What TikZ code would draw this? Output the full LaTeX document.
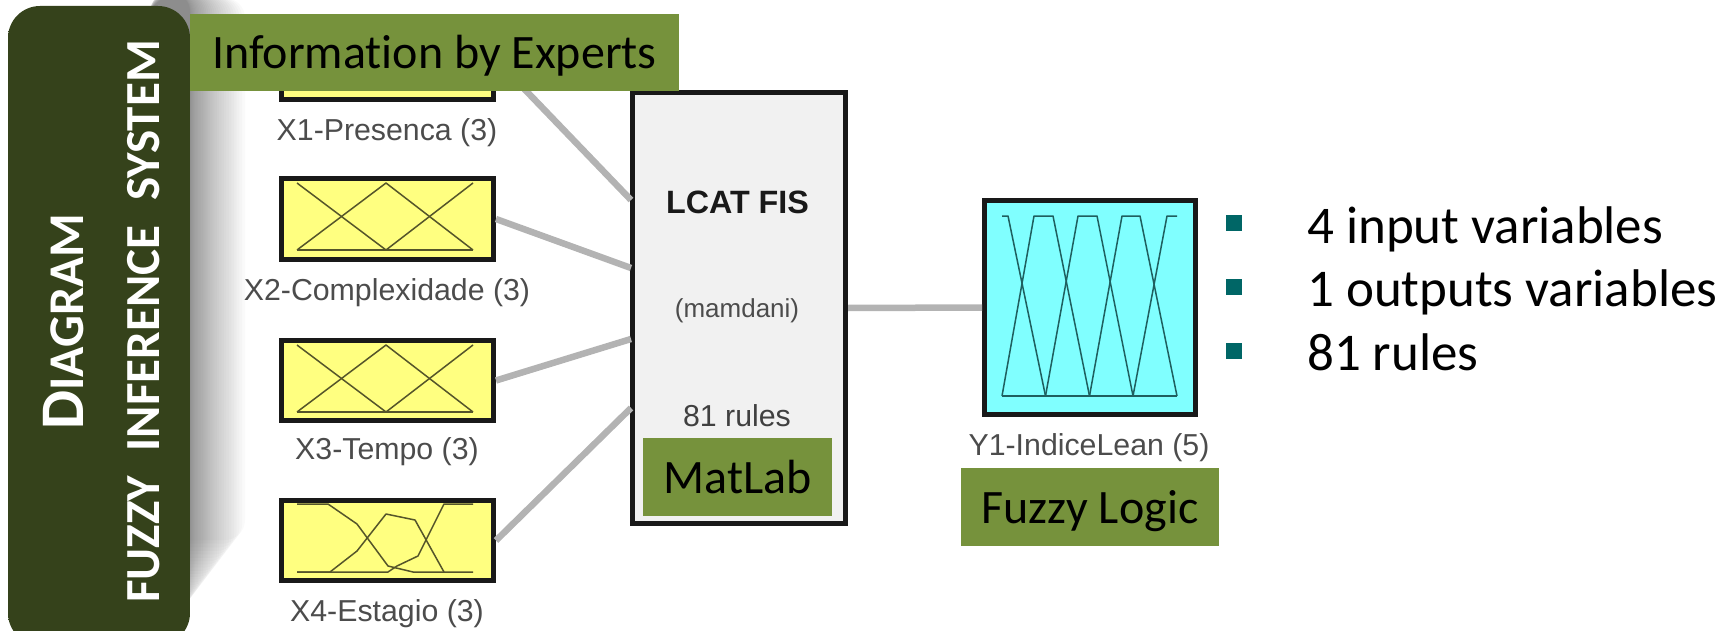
\documentclass[tikz,border=0pt]{standalone}
\usepackage{fontspec}
\setmainfont[Ligatures=NoCommon]{Carlito}
\newfontfamily\arialf{Liberation Sans}
\usetikzlibrary{calc}
\definecolor{olivebox}{HTML}{76923C}
\definecolor{paneldark}{HTML}{35421B}
\definecolor{paneledge}{HTML}{46581F}
\definecolor{connc}{HTML}{B3B3B3}
\definecolor{yellowmf}{HTML}{FFFF80}
\definecolor{cyanmf}{HTML}{80FFFF}
\definecolor{lcatbg}{HTML}{F1F1F1}
\definecolor{mfline}{HTML}{55552A}
\definecolor{cyline}{HTML}{1F5F5F}
\definecolor{bulletc}{HTML}{006666}
\pgfdeclarehorizontalshading{panelshade}{100bp}{
  color(0bp)=(paneledge); color(12bp)=(paneldark); color(88bp)=(paneldark); color(100bp)=(paneledge)}
\tikzset{
  x=1pt,y=-1pt,
  inbox/.style={draw=black!90,line width=5pt,fill=yellowmf,inner sep=0pt,minimum width=212pt,minimum height=80pt},
  conn/.style={draw=connc,line width=6.5pt},
  mf/.style={draw=mfline,line width=1.5pt,line join=round},
  cy/.style={draw=cyline,line width=1.5pt,line join=round},
  tag/.style={fill=olivebox,inner sep=0pt,text=black,text height=36pt,text depth=4pt,font=\fontsize{48}{48}\selectfont},
  arl/.style={inner sep=0pt,text=black!70,font=\arialf\fontsize{30.3}{31}\selectfont},
  bul/.style={inner sep=0pt,anchor=base west,text=black,font=\fontsize{53}{53}\selectfont},
  sq/.style={fill=bulletc,inner sep=0pt,minimum size=16pt},
  ttl/.style={rotate=90,anchor=base west,inner sep=0pt,text=white,font=\bfseries}
}
\begin{document}
\begin{tikzpicture}
\useasboundingbox (0,0) rectangle (1736,631);
\clip (0,0) rectangle (1736,631);
% shadow of the panel
\foreach \i in {0,...,29}{
  \pgfmathsetmacro{\d}{(\i/29)^1.5}
  \fill[black,opacity=0.018,rounded corners=20pt]
    (150,{-8+6*\d}) rectangle ({190+55*\d},{612-72*\d});
}
% panel
\path[rounded corners=32pt,shading=panelshade,shading angle=0]
  (8,6) rectangle (190,645);
\node[ttl] (diagram) at (83,430) {\fontsize{62}{62}\selectfont D\fontsize{50}{50}\selectfont IAGRAM};
\node[ttl] (fis) at (159,603) {\fontsize{49}{49}\selectfont FUZZY\hspace{14pt} INFERENCE\hspace{14pt} SYSTEM};
% blocks
\node[inbox] (x1) at (387.5,59.5) {};
\node[inbox] (x2) at (387.5,219) {};
\node[inbox] (x3) at (387.5,380.5) {};
\node[inbox] (x4) at (387.5,540.5) {};
\node[draw=black!90,line width=5pt,fill=lcatbg,inner sep=0pt,minimum width=213pt,minimum height=431pt] (lcat) at (739,308) {};
\node[draw=black!90,line width=5pt,fill=cyanmf,inner sep=0pt,minimum width=210.5pt,minimum height=214pt] (y1) at (1089.75,307.5) {};
% connectors
\coordinate (l1) at (631,200);
\coordinate (l2) at (631,268);
\coordinate (l3) at (631,339);
\coordinate (l4) at (631,408);
\draw[conn] (x1.east) -- (l1);
\draw[conn] (x2.east) -- (l2);
\draw[conn] (x3.east) -- (l3);
\draw[conn] (x4.east) -- (l4);
\draw[conn] (lcat.east) -- (y1.west);
% membership functions
\foreach \t in {183,345}{
  \draw[mf] (297,\t) -- (386,\t+67) -- (473,\t);
  \draw[mf] (297,\t+67) -- (386,\t) -- (473,\t+67);
  \draw[mf] (297,\t+67) -- (473,\t+67);
}
\draw[mf] (297,504) -- (328,504) -- (357,524) -- (388,566) -- (413,572) -- (473,572);
\draw[mf] (297,572) -- (330,572) -- (357,551) -- (386,514) -- (415,520) -- (444,572);
\draw[mf] (297,572) -- (388,572) -- (397,566) -- (418,556) -- (444,504) -- (473,504);
\draw[cy] (1002,216) -- (1008,216) -- (1045.5,396);
\draw[cy] (1002,396) -- (1034,216) -- (1053,216) -- (1089.5,396);
\draw[cy] (1045.5,396) -- (1078,216) -- (1097,216) -- (1133,396);
\draw[cy] (1089.5,396) -- (1122,216) -- (1140,216) -- (1177,396);
\draw[cy] (1133,396) -- (1167,216) -- (1177,216);
\draw[cy] (1002,396) -- (1177,396);
% labels
\node[arl] (lx1) at (387,133) {X1-Presenca (3)};
\node[arl] (lx2) at (387,293) {X2-Complexidade (3)};
\node[arl] (lx3) at (387,452) {X3-Tempo (3)};
\node[arl] (lx4) at (387,614) {X4-Estagio (3)};
\node[arl] (ly1) at (1089,448) {Y1-IndiceLean (5)};
\node[inner sep=0pt,text=black!90,font=\arialf\bfseries\fontsize{32.3}{33}\selectfont] (lname) at (737.5,202) {LCAT FIS};
\node[inner sep=0pt,text=black!70,font=\arialf\fontsize{26}{26}\selectfont] (lmam) at (737,311) {(mamdani)};
\node[inner sep=0pt,text=black!75,font=\arialf\fontsize{30.3}{31}\selectfont] (lrul) at (737,416) {81 rules};
% tags
\node[tag,minimum width=489pt,minimum height=77pt] (info) at (434.5,52.5) {Information by Experts};
\node[tag,minimum width=189pt,minimum height=78pt] (matlab) at (737.5,477) {MatLab};
\node[tag,minimum width=258pt,minimum height=78pt] (fuzzy) at (1090,507) {Fuzzy Logic};
% bullets
\node[sq] (s1) at (1234,223) {};
\node[sq] (s2) at (1234,287) {};
\node[sq] (s3) at (1234,351) {};
\node[bul] (b1) at (1307,243) {4 input variables};
\node[bul] (b2) at (1307,306) {1 outputs variables};
\node[bul] (b3) at (1307,370) {81 rules};
\end{tikzpicture}
\end{document}
